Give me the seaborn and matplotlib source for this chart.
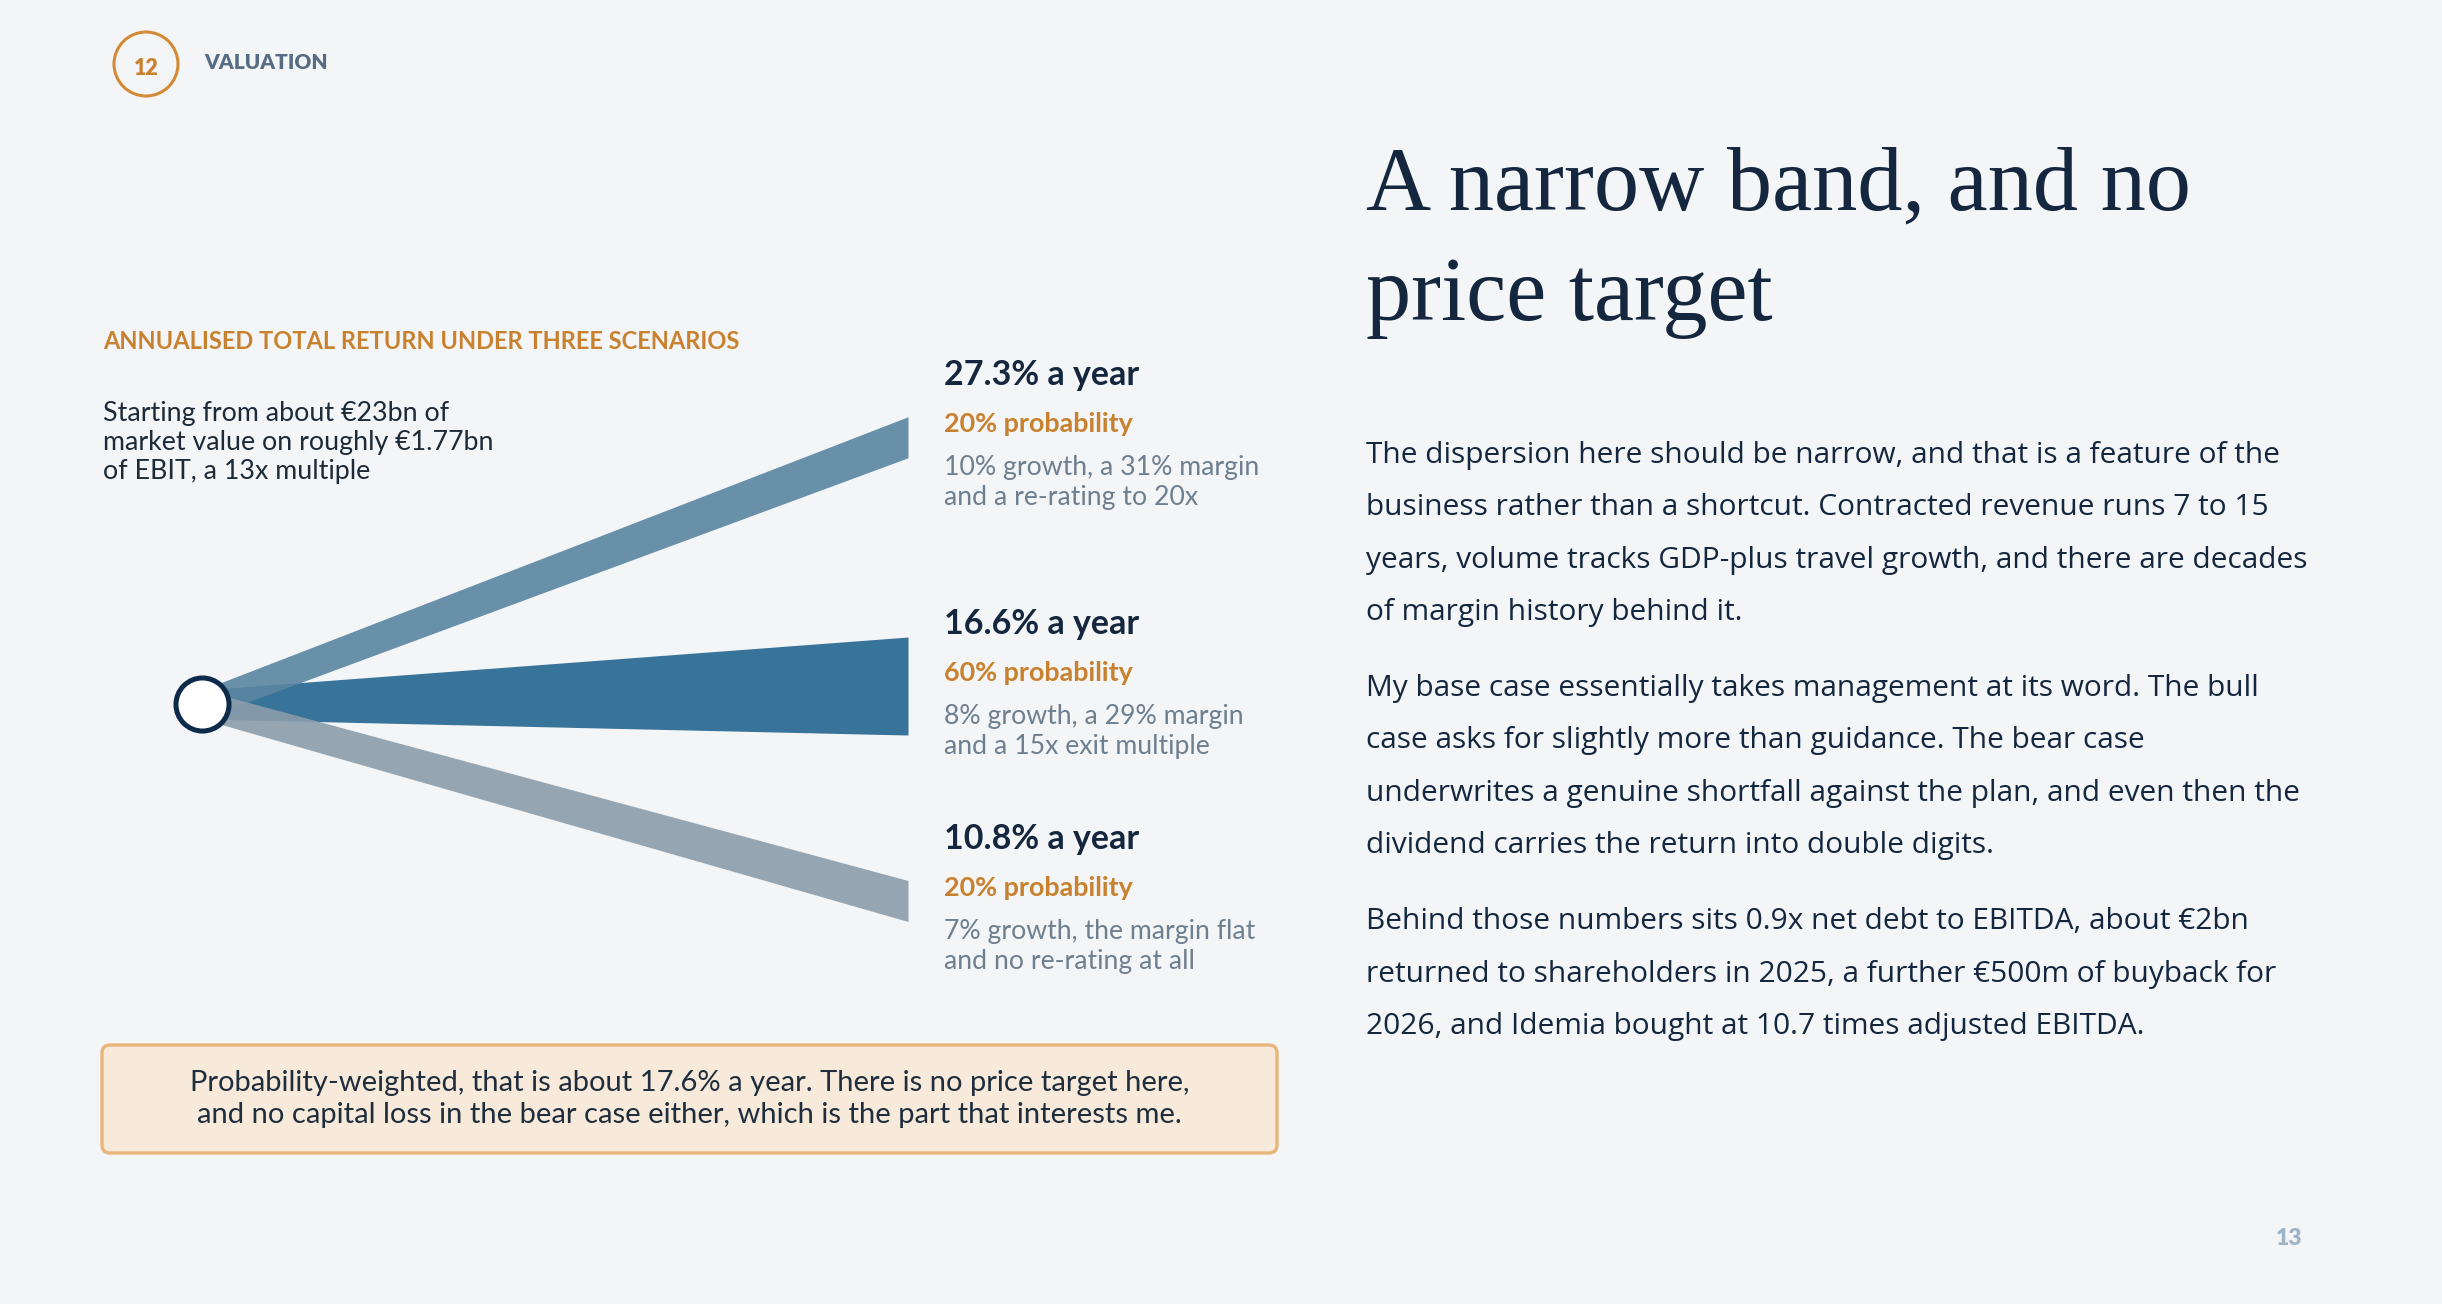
import numpy as np
import matplotlib
matplotlib.use("Agg")
import matplotlib.pyplot as plt
from matplotlib.patches import Circle, FancyBboxPatch
import seaborn as sns

# scenario data
scenarios = ["Bull", "Base", "Bear"]
annual_return = [27.3, 16.6, 10.8]          # % a year
probability = [0.20, 0.60, 0.20]
return_labels = ["27.3% a year", "16.6% a year", "10.8% a year"]
prob_labels = ["20% probability", "60% probability", "20% probability"]
drivers = [
    ["10% growth, a 31% margin", "and a re-rating to 20x"],
    ["8% growth, a 29% margin", "and a 15x exit multiple"],
    ["7% growth, the margin flat", "and no re-rating at all"],
]
band_colors = ["#5a85a1", "#387399", "#8b9daa"]

start_note = ["Starting from about \u20ac23bn of",
              "market value on roughly \u20ac1.77bn",
              "of EBIT, a 13x multiple"]
box_note = ["Probability-weighted, that is about 17.6% a year. There is no price target here,",
            "and no capital loss in the bear case either, which is the part that interests me."]
title_lines = ["A narrow band, and no", "price target"]
paragraphs = [
    ["The dispersion here should be narrow, and that is a feature of the",
     "business rather than a shortcut. Contracted revenue runs 7 to 15",
     "years, volume tracks GDP-plus travel growth, and there are decades",
     "of margin history behind it."],
    ["My base case essentially takes management at its word. The bull",
     "case asks for slightly more than guidance. The bear case",
     "underwrites a genuine shortfall against the plan, and even then the",
     "dividend carries the return into double digits."],
    ["Behind those numbers sits 0.9x net debt to EBITDA, about \u20ac2bn",
     "returned to shareholders in 2025, a further \u20ac500m of buyback for",
     "2026, and Idemia bought at 10.7 times adjusted EBITDA."],
]

BG = "#f3f5f7"
NAVY = "#14273e"
ORANGE = "#c8822f"
GREY = "#6e7f8f"

sns.set_theme(style="white")
plt.rcParams["font.family"] = ["Lato", "DejaVu Sans"]

W, H = 2442, 1304
fig = plt.figure(figsize=(W / 100, H / 100), dpi=100, facecolor=BG)

# page layer in pixel units
page = fig.add_axes([0, 0, 1, 1])
page.set_xlim(0, W)
page.set_ylim(H, 0)
page.axis("off")
page.set_facecolor(BG)

# header
page.add_patch(Circle((146, 64), 32, fill=False, ec="#d48a35", lw=2.2))
page.text(146, 75, "12", ha="center", va="baseline", fontsize=15.5,
          fontweight="heavy", color=ORANGE)
page.text(204, 69, "VALUATION", ha="left", va="baseline", fontsize=15,
          fontweight="heavy", color="#566c83")

# chart heading + starting point note
page.text(103, 349, "ANNUALISED TOTAL RETURN UNDER THREE SCENARIOS", ha="left",
          va="baseline", fontsize=17, fontweight="bold", color=ORANGE)
for i, line in enumerate(start_note):
    page.text(103, 420.5 + 29.3 * i, line, ha="left", va="baseline",
              fontsize=19.3, color="#1d2a38")

# takeaway box
page.add_patch(FancyBboxPatch((102, 1045), 1175, 108,
                              boxstyle="round,pad=0,rounding_size=8",
                              fc="#f7eadb", ec="#e8b57a", lw=2.4))
for i, line in enumerate(box_note):
    page.text(689.5, 1091 + 32.5 * i, line, ha="center", va="baseline",
              fontsize=21, color="#1f2d3d")

# right column
for i, line in enumerate(title_lines):
    page.text(1366, 210 + 110 * i, line, ha="left", va="baseline",
              fontsize=65, color=NAVY, family=["Liberation Serif", "DejaVu Serif"])
y = 463
for para in paragraphs:
    for line in para:
        page.text(1366, y, line, ha="left", va="baseline", fontsize=21.5,
                  color=NAVY, family=["Open Sans", "DejaVu Sans"])
        y += 52.4
    y += 23.5

page.text(2289, 1245, "13", ha="center", va="baseline", fontsize=16.5,
          fontweight="heavy", color="#9db4c8")

# fan chart: x = today (0) to exit (1), y = annual return on a log scale
ax = fig.add_axes([202 / W, 1 - 1000 / H, 706 / W, 670 / H])
ax.patch.set_alpha(0)
ax.set_yscale("log")
ax.set_xlim(0, 1)
ax.set_ylim(8.86, 33.83)
ax.axis("off")

ORIGIN = 16.0
px_per_ln = 670 / np.log(33.83 / 8.86)
f0 = np.exp(29 / 2 / px_per_ln)
order = [1, 0, 2]
for k in order:
    r, p = annual_return[k], probability[k]
    f1 = np.exp((12.5 + 142.5 * p) / 2 / px_per_ln)
    ax.fill_between([0, 1], [ORIGIN / f0, r / f1], [ORIGIN * f0, r * f1],
                    color=band_colors[k], lw=0, alpha=1.0 if k == 1 else 0.9,
                    zorder=2)

sns.scatterplot(x=[0], y=[ORIGIN], ax=ax, s=1460, color="white",
                edgecolor="#0d2a4a", linewidth=3.6, zorder=5, clip_on=False,
                legend=False)

for k in range(len(scenarios)):
    r = annual_return[k]
    ax.annotate(return_labels[k], xy=(1, r), xytext=(36, 52), textcoords="offset pixels",
                ha="left", va="baseline", fontsize=24.5, fontweight="bold",
                color=NAVY, annotation_clip=False)
    ax.annotate(prob_labels[k], xy=(1, r), xytext=(36, 5), textcoords="offset pixels",
                ha="left", va="baseline", fontsize=19.4, fontweight="bold",
                color=ORANGE, annotation_clip=False)
    for j, line in enumerate(drivers[k]):
        ax.annotate(line, xy=(1, r), xytext=(36, -38 - 30 * j), textcoords="offset pixels",
                    ha="left", va="baseline", fontsize=19.2, color=GREY,
                    annotation_clip=False)

fig.savefig("out.png", dpi=100, facecolor=BG)
